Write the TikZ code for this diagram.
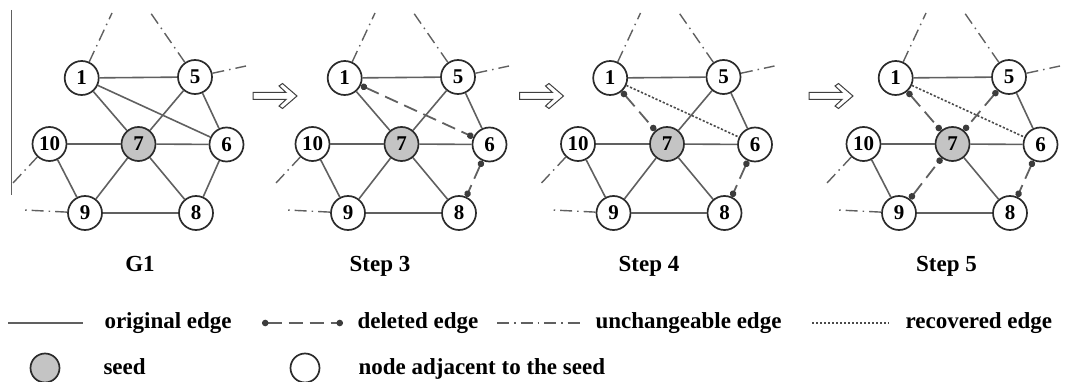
\documentclass[tikz,border=0pt]{standalone}
\usepackage{fontspec}
\setmainfont{Liberation Serif}
\usetikzlibrary{arrows.meta}

\definecolor{edgegray}{HTML}{606060}
\definecolor{nodeline}{HTML}{2B2B2B}
\definecolor{seedgray}{HTML}{C4C4C4}
\definecolor{dotgray}{HTML}{3C3C3C}
\definecolor{recgray}{HTML}{4A4A4A}

\tikzset{
  graph node/.style={draw=nodeline,circle,line width=1.7pt,minimum size=34pt,inner sep=0pt,fill=white,
    font=\fontsize{21}{21}\selectfont\bfseries},
  seed node/.style={graph node,fill=seedgray},
  orig edge/.style={draw=edgegray,line width=1.6pt},
  del edge/.style={draw=edgegray,line width=1.8pt,dash pattern=on 14pt off 7pt,
    {Circle[length=6.5pt,color=dotgray]}-{Circle[length=6.5pt,color=dotgray]}},
  fix edge/.style={draw=edgegray,line width=1.4pt,dash pattern=on 12pt off 5pt on 1.5pt off 5pt},
  rec edge/.style={draw=recgray,line width=1.6pt,dash pattern=on 2.2pt off 1.8pt},
  step arrow/.style={draw=black!75,line width=1pt,fill=white},
  caption/.style={font=\fontsize{23}{23}\selectfont\bfseries,anchor=base},
  legend text/.style={font=\fontsize{23}{23}\selectfont\bfseries,anchor=base west}
}

\begin{document}
\begin{tikzpicture}[x=1pt,y=-1pt]
  \useasboundingbox (0,0) rectangle (1072,382);

  % four panels: G1, Step 3, Step 4, Step 5
  \foreach \p/\dx in {a/0,b/263,c/528.5,d/814} {
    \node [graph node] (n1\p)  at (81.7+\dx,78)   {1};
    \node [graph node] (n5\p)  at (195+\dx,77)    {5};
    \node [graph node] (n10\p) at (49.5+\dx,144)  {10};
    \node [seed node]  (n7\p)  at (138.5+\dx,144) {7};
    \node [graph node] (n6\p)  at (226.5+\dx,144.5) {6};
    \node [graph node] (n9\p)  at (85+\dx,213)    {9};
    \node [graph node] (n8\p)  at (196+\dx,213)   {8};
    \coordinate (u1\p)  at (112+\dx,13);
    \coordinate (u5\p)  at (150+\dx,12);
    \coordinate (r5\p)  at (246+\dx,66);
    \coordinate (l10\p) at (13+\dx,183);
    \coordinate (l9\p)  at (24+\dx,210);
    \draw [orig edge] (n1\p) -- (n5\p);
    \draw [orig edge] (n5\p) -- (n6\p);
    \draw [orig edge] (n10\p) -- (n7\p);
    \draw [orig edge] (n7\p) -- (n6\p);
    \draw [orig edge] (n10\p) -- (n9\p);
    \draw [orig edge] (n7\p) -- (n8\p);
    \draw [orig edge] (n9\p) -- (n8\p);
    \draw [fix edge] (n1\p) -- (u1\p);
    \draw [fix edge] (n5\p) -- (u5\p);
    \draw [fix edge] (n5\p) -- (r5\p);
    \draw [fix edge] (n10\p) -- (l10\p);
    \draw [fix edge] (n9\p) -- (l9\p);
  }

  % G1
  \draw [orig edge] (n1a) -- (n7a);
  \draw [orig edge] (n1a) -- (n6a);
  \draw [orig edge] (n5a) -- (n7a);
  \draw [orig edge] (n9a) -- (n7a);
  \draw [orig edge] (n6a) -- (n8a);
  \draw [edgegray,line width=1pt] (11.5,10) -- (11.5,195);

  % Step 3
  \draw [orig edge] (n1b) -- (n7b);
  \draw [orig edge] (n5b) -- (n7b);
  \draw [orig edge] (n9b) -- (n7b);
  \draw [del edge]  (n1b) -- (n6b);
  \draw [del edge]  (n6b) -- (n8b);

  % Step 4
  \draw [orig edge] (n5c) -- (n7c);
  \draw [orig edge] (n9c) -- (n7c);
  \draw [del edge]  (n1c) -- (n7c);
  \draw [rec edge]  (n1c) -- (n6c);
  \draw [del edge]  (n6c) -- (n8c);

  % Step 5
  \draw [del edge]  (n1d) -- (n7d);
  \draw [del edge]  (n5d) -- (n7d);
  \draw [del edge]  (n9d) -- (n7d);
  \draw [rec edge]  (n1d) -- (n6d);
  \draw [del edge]  (n6d) -- (n8d);

  % hollow arrows between panels
  \foreach \ax in {253,519.5,809} {
    \draw [step arrow] (\ax,92.5) -- ++(33,0) -- ++(-7,-6.5) -- ++(3.5,-2.5) -- ++(14.5,12.5)
      -- ++(-14.5,12.5) -- ++(-3.5,-2.5) -- ++(7,-6.5) -- ++(-33,0) -- cycle;
  }

  % captions
  \node [caption] (capa) at (140,272)   {G1};
  \node [caption] (capb) at (380,272)   {Step 3};
  \node [caption] (capc) at (649,272)   {Step 4};
  \node [caption] (capd) at (946.5,272) {Step 5};

  % legend
  \coordinate (lo1) at (8,323);   \coordinate (lo2) at (83,323);
  \coordinate (ld1) at (262,323); \coordinate (ld2) at (343,323);
  \coordinate (lf1) at (497,323); \coordinate (lf2) at (583,323);
  \coordinate (lr1) at (812,323); \coordinate (lr2) at (889,323);
  \draw [orig edge] (lo1) -- (lo2);
  \draw [del edge]  (ld1) -- (ld2);
  \draw [fix edge]  (lf1) -- (lf2);
  \draw [rec edge]  (lr1) -- (lr2);
  \node [legend text] (to) at (101,329) {original edge};
  \node [legend text] (td) at (354,329) {deleted edge};
  \node [legend text] (tf) at (592,329) {unchangeable edge};
  \node [legend text] (tr) at (902,329) {recovered edge};
  \node [seed node,minimum size=29pt]  (legseed) at (45,368)  {};
  \node [graph node,minimum size=29pt] (legadj)  at (305,368) {};
  \node [legend text] (ts) at (100,374) {seed};
  \node [legend text] (ta) at (355,374) {node adjacent to the seed};
\end{tikzpicture}
\end{document}
